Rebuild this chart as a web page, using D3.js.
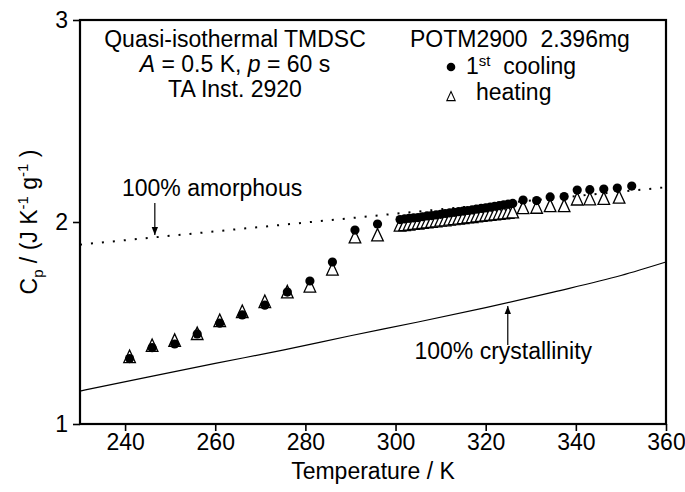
<!DOCTYPE html>
<html><head><meta charset="utf-8">
<script src="https://cdn.jsdelivr.net/npm/d3@7"></script>
<style>
body{margin:0;background:#fff;}
text{font-family:Arial,"Liberation Sans",Helvetica,sans-serif;fill:#000;}
</style></head>
<body><svg id="c" width="685" height="492"></svg>
<script>
// ---- data ----
const coolT = [241,246,251,256,261,266,271,276,281,286,291,296,
  301,302,303,304,305,306,307,308,309,310,311,312,313,314,315,316,317,318,319,320,321,322,323,324,325,326,
  328.3,331.3,334.3,337.4,340.3,343.1,346.2,349.2,352.4];
const coolCp = [1.324,1.378,1.396,1.446,1.499,1.540,1.588,1.653,1.708,1.802,1.960,1.990,
  2.012,2.015,2.018,2.020,2.022,2.026,2.030,2.032,2.035,2.038,2.042,2.045,2.048,2.051,2.054,2.057,2.060,2.064,2.067,2.070,2.074,2.078,2.081,2.085,2.088,2.092,
  2.109,2.106,2.124,2.126,2.158,2.160,2.163,2.168,2.178];
const heatT = [241,246,251,256,261,266,271,276,281,286,291,296,
  301,302,303,304,305,306,307,308,309,310,311,312,313,314,315,316,317,318,319,320,321,322,323,324,325,326,
  328.3,331.3,334.3,337.4,340.3,343.1,346.2,349.6];
const heatCp = [1.329,1.384,1.409,1.443,1.507,1.552,1.601,1.649,1.678,1.762,1.921,1.931,
  1.980,1.982,1.985,1.988,1.990,1.993,1.996,1.998,2.001,2.004,2.006,2.009,2.012,2.014,2.017,2.020,2.022,2.025,2.028,2.030,2.033,2.035,2.038,2.040,2.043,2.045,
  2.066,2.068,2.076,2.076,2.109,2.110,2.112,2.118];
const amorphT = [230,360];
const amorphCp = [1.888,2.172];
const crystT = [230,245,260,275,290,305,320,335,350,360];
const crystCp = [1.163,1.232,1.300,1.366,1.437,1.505,1.576,1.653,1.735,1.802];
const xTicks = [240,260,280,300,320,340,360];
const yTicks = [1,2,3];

// ---- layout ----
const svg = d3.select("#c");
const L=80,R=666,T=20,B=424;
const x = d3.scaleLinear().domain([230,360]).range([L,R]);
const y = d3.scaleLinear().domain([1,3]).range([B,T]);
const FS = 23;

// axes
const xa = svg.append("g").attr("transform",`translate(0,${B})`)
  .call(d3.axisBottom(x).tickValues(xTicks).tickSize(7).tickPadding(3));
const ya = svg.append("g").attr("transform",`translate(${L},0)`)
  .call(d3.axisLeft(y).tickValues(yTicks).tickFormat(d3.format("d")).tickSize(7).tickPadding(5));
[xa,ya].forEach(g=>{
  g.select(".domain").remove();
  g.selectAll(".tick line").attr("stroke","#000").attr("stroke-width",1.6);
  g.selectAll(".tick text").style("font-size",FS+"px").attr("fill","#000");
});

// lines
const amorph = amorphT.map((t,i)=>[t,amorphCp[i]]);
const cryst = crystT.map((t,i)=>[t,crystCp[i]]);
const line = d3.line().x(d=>x(d[0])).y(d=>y(d[1]));
svg.append("path").attr("d",line(amorph)).attr("fill","none").attr("stroke","#000")
  .attr("stroke-width",2).attr("stroke-dasharray","2,9");
svg.append("path").attr("d",line.curve(d3.curveMonotoneX)(cryst)).attr("fill","none")
  .attr("stroke","#000").attr("stroke-width",1.2);

// markers
const tri = (s)=>`M0,${-7.5*s}L${5.8*s},${5*s}L${-5.8*s},${5*s}Z`;
svg.append("g").selectAll("path").data(heatT.map((t,i)=>[t,heatCp[i]])).join("path")
  .attr("d",tri(1)).attr("transform",d=>`translate(${x(d[0])},${y(d[1])})`)
  .attr("fill","#fff").attr("stroke","#000").attr("stroke-width",1.3);
svg.append("g").selectAll("circle").data(coolT.map((t,i)=>[t,coolCp[i]])).join("circle")
  .attr("cx",d=>x(d[0])).attr("cy",d=>y(d[1])).attr("r",4.6).attr("fill","#000");

// frame
svg.append("rect").attr("x",L).attr("y",T).attr("width",R-L).attr("height",B-T)
  .attr("fill","none").attr("stroke","#000").attr("stroke-width",2.2);

// arrows
const defs = svg.append("defs");
defs.append("marker").attr("id","ah").attr("viewBox","0 0 10 10").attr("refX",10).attr("refY",5)
  .attr("markerWidth",7).attr("markerHeight",7).attr("orient","auto-start-reverse")
  .append("path").attr("d","M0,1L10,5L0,9Z").attr("fill","#000");
const arrAm = [[246.6,2.094],[246.6,1.936]];
const arrCr = [[324.9,1.391],[324.9,1.584]];
[arrAm,arrCr].forEach(a=>{
  svg.append("line").attr("x1",x(a[0][0])).attr("y1",y(a[0][1])).attr("x2",x(a[1][0])).attr("y2",y(a[1][1]))
    .attr("stroke","#000").attr("stroke-width",1.2).attr("marker-end","url(#ah)");
});

// annotation text
function txt(xp,yp,s,anchor){
  return svg.append("text").attr("x",xp).attr("y",yp).attr("text-anchor",anchor||"start")
    .style("font-size",FS+"px").text(s);
}
txt(x(259.3),y(2.129),"100% amorphous","middle");
txt(x(323.9),y(1.322),"100% crystallinity","middle");
txt(235,47,"Quasi-isothermal TMDSC","middle");
const t2 = svg.append("text").attr("x",235).attr("y",72).attr("text-anchor","middle").style("font-size",FS+"px");
t2.append("tspan").style("font-style","italic").text("A");
t2.append("tspan").text(" = 0.5 K, ");
t2.append("tspan").style("font-style","italic").text("p");
t2.append("tspan").text(" = 60 s");
txt(235,97,"TA Inst. 2920","middle");
txt(410,47,"POTM2900\u00a0\u00a02.396mg");
// legend
svg.append("circle").attr("cx",451).attr("cy",67).attr("r",4.3).attr("fill","#000");
const t3 = svg.append("text").attr("x",466).attr("y",74).style("font-size",FS+"px");
t3.append("tspan").text("1");
t3.append("tspan").attr("dy",-8).style("font-size","15px").text("st");
t3.append("tspan").attr("dy",8).text("\u00a0 cooling");
svg.append("path").attr("d",tri(0.72)).attr("transform","translate(451,97)")
  .attr("fill","#fff").attr("stroke","#000").attr("stroke-width",1.1);
txt(476,100,"heating");

// axis titles
txt((L+R)/2,479,"Temperature / K","middle");
const yl = svg.append("text").attr("transform",`translate(37,${(T+B)/2}) rotate(-90)`)
  .attr("text-anchor","middle").style("font-size",FS+"px");
yl.append("tspan").text("C");
yl.append("tspan").attr("dy",6).style("font-size","15px").text("p");
yl.append("tspan").attr("dy",-6).text(" / (J K");
yl.append("tspan").attr("dy",-9).style("font-size","15px").text("-1");
yl.append("tspan").attr("dy",9).text(" g");
yl.append("tspan").attr("dy",-9).style("font-size","15px").text("-1");
yl.append("tspan").attr("dy",9).text(" )");
</script></body></html>
